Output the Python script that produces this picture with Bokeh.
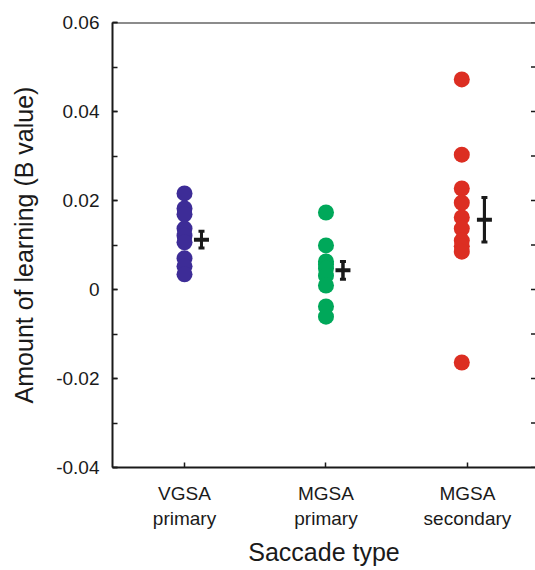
from bokeh.plotting import figure
from bokeh.models import (LinearAxis, FixedTicker, Range1d, ColumnDataSource,
                          Whisker, TeeHead, Span)
from bokeh.embed import file_html
from bokeh.resources import INLINE

# ---- data ----
categories = ["VGSA\nprimary", "MGSA\nprimary", "MGSA\nsecondary"]
cat_pos = [1, 2, 3]
vgsa_primary = [0.0216, 0.0182, 0.0169, 0.0137, 0.0121, 0.0106, 0.0070, 0.0052, 0.0034]
mgsa_primary = [0.0173, 0.0099, 0.0063, 0.0056, 0.0047, 0.0031, 0.0009, -0.0038, -0.0061]
mgsa_secondary = [0.0472, 0.0303, 0.0227, 0.0195, 0.0162, 0.0137, 0.0110, 0.0097, 0.0085, -0.0164]
group_means = [0.0112, 0.0043, 0.0157]
group_sems = [0.0019, 0.0020, 0.0050]
y_ticks = [-0.04, -0.02, 0.0, 0.02, 0.04, 0.06]
y_tick_labels = ["-0.04", "-0.02", "0", "0.02", "0.04", "0.06"]
y_minor = [-0.04, -0.03, -0.02, -0.01, 0.0, 0.01, 0.02, 0.03, 0.04, 0.05, 0.06]

colors = ["#3d2c97", "#00a85a", "#dc2e22"]
dot_shift = [0.0, 0.0, -0.04]
mean_offset = 0.12
FONT = "Liberation Sans"
INK = "#1a1a1a"

X0, X1 = 0.491, 3.481
Y0, Y1 = -0.04, 0.06

p = figure(width=535, height=570, output_backend="svg", toolbar_location=None,
           x_range=Range1d(X0, X1), y_range=Range1d(Y0, Y1),
           x_axis_location=None, y_axis_location=None,
           min_border_left=112, min_border_right=0, min_border_top=22,
           min_border_bottom=103)
p.grid.visible = False
p.outline_line_color = None
p.background_fill_color = "white"
p.border_fill_color = "white"

# left axis
ly = LinearAxis(ticker=FixedTicker(ticks=y_ticks, minor_ticks=y_minor),
                axis_label="Amount of learning (B value)")
ly.major_label_overrides = {t: s for t, s in zip(y_ticks, y_tick_labels)}
ly.major_tick_in = 5
ly.major_tick_out = 0
ly.minor_tick_in = 5
ly.minor_tick_out = 0
ly.major_label_standoff = 13
ly.axis_label_standoff = 15
ly.axis_line_width = 2
ly.axis_line_color = INK
ly.major_tick_line_color = INK
ly.minor_tick_line_color = INK
ly.major_tick_line_width = 1.5
ly.minor_tick_line_width = 1.5
ly.major_label_text_font = FONT
ly.major_label_text_font_size = "19px"
ly.major_label_text_color = INK
ly.axis_label_text_font = FONT
ly.axis_label_text_font_size = "25px"
ly.axis_label_text_font_style = "normal"
ly.axis_label_text_color = INK
p.add_layout(ly, "left")

# bottom axis
bx = LinearAxis(ticker=FixedTicker(ticks=cat_pos, minor_ticks=[]),
                axis_label="Saccade type")
bx.major_label_overrides = {t: s for t, s in zip(cat_pos, categories)}
bx.major_tick_in = 5
bx.major_tick_out = 0
bx.major_label_standoff = 15
bx.axis_label_standoff = 6
bx.axis_line_width = 2
bx.axis_line_color = INK
bx.major_tick_line_color = INK
bx.major_tick_line_width = 1.5
bx.major_label_text_font = FONT
bx.major_label_text_font_size = "19px"
bx.major_label_text_color = INK
bx.axis_label_text_font = FONT
bx.axis_label_text_font_size = "25px"
bx.axis_label_text_font_style = "normal"
bx.axis_label_text_color = INK
p.add_layout(bx, "below")

# top spine
p.add_layout(Span(location=Y1, dimension="width", line_color=INK, line_width=2))

# right-side inward ticks (right spine lies just outside the view)
rsrc = ColumnDataSource(dict(x=[X1] * len(y_minor), y=y_minor))
p.scatter("x", "y", source=rsrc, marker="dash", size=9, line_width=1.5,
          line_color=INK)

# dots
groups = [vgsa_primary, mgsa_primary, mgsa_secondary]
for pos, vals, col, sh in zip(cat_pos, groups, colors, dot_shift):
    src = ColumnDataSource(dict(x=[pos + sh] * len(vals), y=vals))
    p.scatter("x", "y", source=src, size=16, fill_color=col, line_color=None)

# mean +/- sem
mx = [c + mean_offset for c in cat_pos]
esrc = ColumnDataSource(dict(
    x=mx, m=group_means,
    lo=[m - s for m, s in zip(group_means, group_sems)],
    hi=[m + s for m, s in zip(group_means, group_sems)]))
p.segment(x0="x", y0="lo", x1="x", y1="hi", source=esrc, line_width=3, line_color=INK)
w = Whisker(source=esrc, base="x", lower="lo", upper="hi", dimension="height",
            line_color=INK, line_width=3,
            upper_head=TeeHead(size=6, line_width=3, line_color=INK),
            lower_head=TeeHead(size=6, line_width=3, line_color=INK))
p.add_layout(w)
p.scatter("x", "m", source=esrc, marker="dash", size=15, line_width=4, line_color=INK)

open("out.html", "w").write(file_html(p, INLINE))
